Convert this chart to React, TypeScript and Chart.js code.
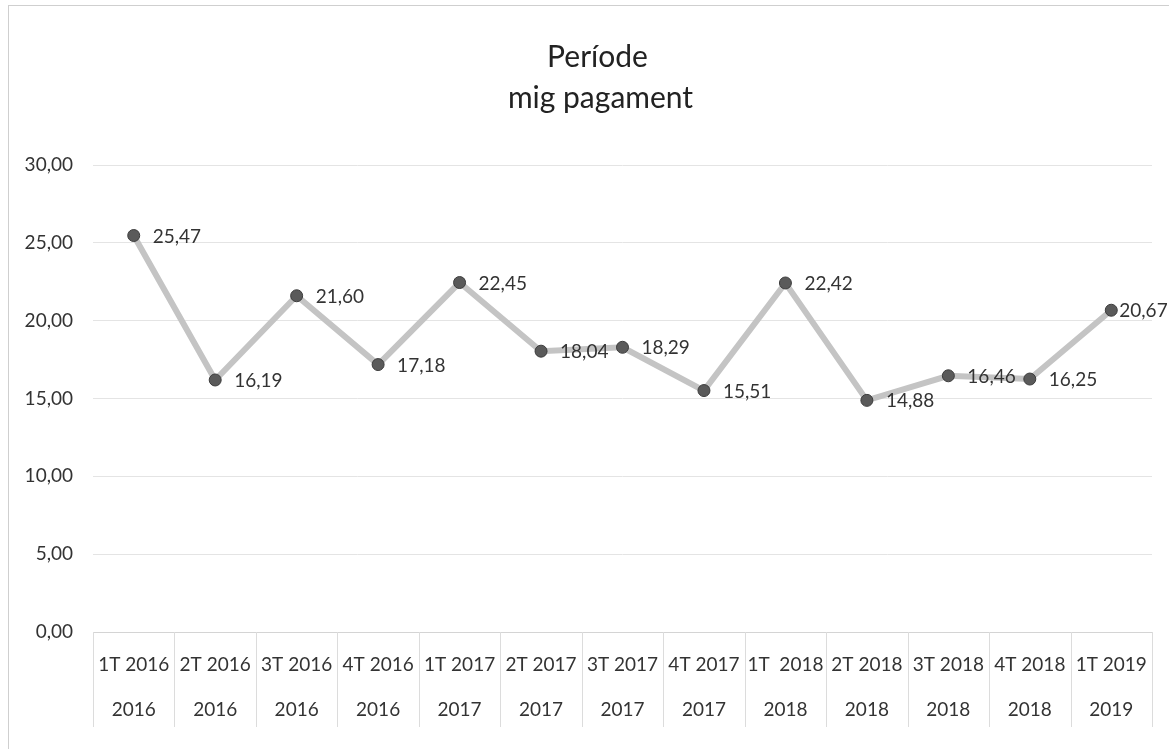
import React, { useEffect, useRef } from "react";
import { Chart, registerables } from "chart.js";

Chart.register(...registerables);

const quarterLabels = ["1T 2016", "2T 2016", "3T 2016", "4T 2016", "1T 2017", "2T 2017", "3T 2017", "4T 2017", "1T  2018", "2T 2018", "3T 2018", "4T 2018", "1T 2019"];
const yearLabels = ["2016", "2016", "2016", "2016", "2017", "2017", "2017", "2017", "2018", "2018", "2018", "2018", "2019"];
const periodValues = [25.47, 16.19, 21.6, 17.18, 22.45, 18.04, 18.29, 15.51, 22.42, 14.88, 16.46, 16.25, 20.67];
const titleLines = ["Període", "mig pagament"];

const FONT = "Lato, 'Open Sans', sans-serif";
const fmt = (v: number) => v.toFixed(2).replace(".", ",");

const dataLabelPlugin = {
  id: "dataLabels",
  afterDatasetsDraw(chart: any) {
    const ctx = chart.ctx;
    const meta = chart.getDatasetMeta(0);
    ctx.save();
    ctx.font = `19px ${FONT}`;
    ctx.fillStyle = "#333333";
    ctx.textAlign = "left";
    ctx.textBaseline = "middle";
    meta.data.forEach((pt: any, i: number) => {
      const off = i === meta.data.length - 1 ? 8 : 19;
      ctx.fillText(fmt(periodValues[i]), pt.x + off, pt.y + 1);
    });
    ctx.restore();
  },
};

const titlePlugin = {
  id: "twoLineTitle",
  afterDraw(chart: any) {
    const ctx = chart.ctx;
    const cx = (chart.chartArea.left + chart.chartArea.right) / 2 - 26;
    ctx.save();
    ctx.font = `30px ${FONT}`;
    ctx.fillStyle = "#222222";
    ctx.textAlign = "center";
    ctx.textBaseline = "alphabetic";
    ctx.fillText(titleLines[0], cx + 1, 67);
    ctx.fillText(titleLines[1], cx + 4, 108);
    ctx.restore();
  },
};

const separatorPlugin = {
  id: "catSeparators",
  afterDraw(chart: any) {
    const x = chart.scales.x;
    const ctx = chart.ctx;
    const n = quarterLabels.length;
    const half = (x.getPixelForValue(1) - x.getPixelForValue(0)) / 2;
    ctx.save();
    ctx.strokeStyle = "#dcdcdc";
    ctx.lineWidth = 1;
    for (let i = 0; i <= n; i++) {
      const px = Math.round(x.getPixelForValue(0) - half + i * half * 2) + 0.5;
      ctx.beginPath();
      ctx.moveTo(px, x.top);
      ctx.lineTo(px, x.top + 95);
      ctx.stroke();
    }
    ctx.restore();
  },
};

export default function App() {
  const ref = useRef<HTMLCanvasElement>(null);
  useEffect(() => {
    if (!ref.current) return;
    const chart = new Chart(ref.current, {
      type: "line",
      data: {
        labels: quarterLabels.map((q, i) => [q, yearLabels[i]]),
        datasets: [
          {
            data: periodValues,
            borderColor: "#c4c4c4",
            borderWidth: 6,
            pointBackgroundColor: "#5a5a5a",
            pointBorderColor: "#3c3c3c",
            pointBorderWidth: 1,
            pointRadius: 6,
            tension: 0,
            clip: false as any,
          },
        ],
      },
      options: {
        animation: false,
        responsive: false,
        layout: { padding: { left: 0, right: 17, top: 165, bottom: 0 } },
        plugins: {
          legend: { display: false },
          tooltip: { enabled: false },
          title: { display: false },
        },
        scales: {
          x: {
            offset: true,
            grid: { display: false, drawTicks: false },
            border: { display: true, color: "#d4d4d4", width: 1 },
            ticks: {
              color: "#333333",
              font: { family: FONT, size: 19, lineHeight: 2.37 },
              padding: 10,
              maxRotation: 0,
              autoSkip: false,
            },
            afterFit: (s: any) => {
              s.height = 117;
            },
          },
          y: {
            min: 0,
            max: 30,
            grid: { color: "#e4e4e4", drawTicks: false, lineWidth: 1 },
            border: { display: false },
            ticks: {
              stepSize: 5,
              color: "#333333",
              font: { family: FONT, size: 19 },
              padding: 20,
              callback: (v: any) => fmt(Number(v)),
            },
            afterFit: (s: any) => {
              s.width = 93;
            },
          },
        },
      },
      plugins: [dataLabelPlugin, separatorPlugin, titlePlugin],
    });
    return () => chart.destroy();
  }, []);
  return (
    <div style={{ position: "fixed", left: 0, top: 0, width: 1169, height: 749, background: "#ffffff" }}>
      <canvas ref={ref} width={1169} height={749} style={{ display: "block" }} />
      <div
        style={{
          position: "absolute",
          left: 8,
          top: 5,
          width: 1161,
          height: 744,
          borderLeft: "1px solid #cfcfcf",
          borderTop: "1px solid #cfcfcf",
          pointerEvents: "none",
        }}
      />
    </div>
  );
}
